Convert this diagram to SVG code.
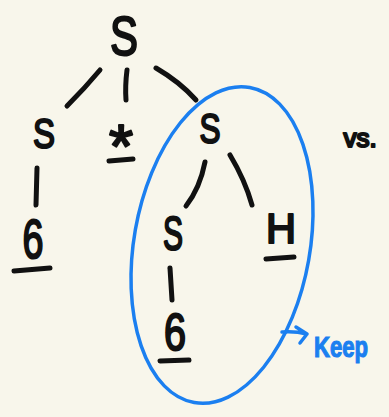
<svg xmlns="http://www.w3.org/2000/svg" width="389" height="417" viewBox="0 0 389 417">
<style>
.t{font-family:"Liberation Sans","DejaVu Sans",sans-serif;fill:#111;stroke:#111;stroke-width:2.2;stroke-linejoin:round;text-anchor:middle}
.e{fill:none;stroke:#111;stroke-width:5;stroke-linecap:round;stroke-linejoin:round}
.b{fill:none;stroke:#1b7ff0;stroke-width:3.5;stroke-linecap:round;stroke-linejoin:round}
.k{font-family:"Liberation Sans","DejaVu Sans",sans-serif;font-weight:bold;fill:#1b7ff0;stroke:#1b7ff0;stroke-width:1.2;text-anchor:start}
</style>
<rect width="389" height="417" fill="#f8f6eb"/>
<g id="connectors">
<path class="e" d="M100 70 Q85 88 67 106"/>
<path class="e" d="M127 70 Q125 86 126 100"/>
<path class="e" d="M156 68 Q180 82 196 100"/>
<path class="e" d="M37 168 L36 205"/>
<path class="e" d="M205 162 Q200 188 186 206"/>
<path class="e" d="M230 155 Q245 180 252 205"/>
<path class="e" d="M170 268 L172 300"/>
</g>
<g id="root"><text class="t" x="124" y="55" font-size="56" textLength="28" lengthAdjust="spacingAndGlyphs">S</text></g>
<g id="s-left"><text class="t" x="44" y="148" font-size="43" textLength="22" lengthAdjust="spacingAndGlyphs">S</text></g>
<g id="star"><text class="t" x="121" y="167" font-size="62">*</text><path class="e" d="M109 161 L133 159"/></g>
<g id="s-right"><text class="t" x="210" y="143" font-size="42" textLength="21" lengthAdjust="spacingAndGlyphs">S</text></g>
<g id="six-left"><text class="t" x="33" y="258" font-size="56" textLength="21" lengthAdjust="spacingAndGlyphs">6</text><path class="e" d="M14 271 L50 268"/></g>
<g id="s-inner"><text class="t" x="173" y="250" font-size="48" textLength="20" lengthAdjust="spacingAndGlyphs">S</text></g>
<g id="hash"><text class="t" x="281" y="243" font-size="42" textLength="30" lengthAdjust="spacingAndGlyphs">H</text><path class="e" d="M266 259 L294 257"/></g>
<g id="six-inner"><text class="t" x="175" y="350" font-size="52" textLength="22" lengthAdjust="spacingAndGlyphs">6</text><path class="e" d="M160 361 L189 360"/></g>
<g id="vs"><text class="t" x="360" y="147" font-size="26" stroke-width="1.6">vs.</text></g>
<g id="keep-group">
<ellipse class="b" cx="222" cy="245" rx="88" ry="160" transform="rotate(10 222 245)"/>
<path class="b" d="M282 332 Q295 331 307 334 M296 327 L307 334 L300 343"/>
<text class="k" x="314" y="357" font-size="30" textLength="54" lengthAdjust="spacingAndGlyphs">Keep</text>
</g>
</svg>
